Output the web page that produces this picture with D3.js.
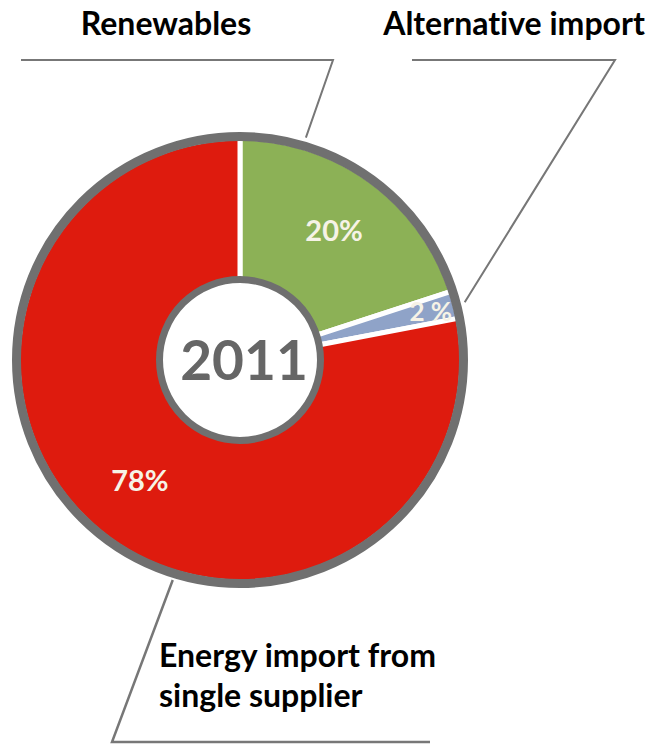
<!DOCTYPE html>
<html>
<head>
<meta charset="utf-8">
<script src="https://cdn.jsdelivr.net/npm/d3@7"></script>
<style>
  body { margin: 0; background: #fff; }
  svg { display: block; }
  text { font-family: Lato, "Open Sans", sans-serif; font-weight: 700; font-variant-ligatures: none; }
</style>
</head>
<body>
<svg id="chart" width="651" height="744"></svg>
<script>
// chart data
const categories = ['Renewables', 'Alternative import', 'Energy import from single supplier']
const categoryLines = [['Renewables'], ['Alternative import'], ['Energy import from', 'single supplier']]
const shares = [20, 2, 78]
const shareLabels = ['20%', '2 %', '78%']
const yearLabel = '2011'
const colors = ['#8cb156', '#8fa3c8', '#de1b0e']

// layout
const cx = 240
const cy = 360
const outerR = 223
const innerR = 84
const labelR = [160, 197, 157]

const svg = d3.select('#chart')
const g = svg.append('g').attr('transform', `translate(${cx}, ${cy})`)

const pie = d3.pie().sort(null).value(d => d)
const arcs = pie(shares)

const arc = d3.arc().innerRadius(innerR - 4).outerRadius(outerR - 1)

// slices, white stroke makes the gaps
g.selectAll('.slice')
  .data(arcs)
  .enter()
  .append('path')
  .attr('class', 'slice')
  .attr('d', arc)
  .style('fill', (d, i) => colors[i])
  .style('stroke', '#fff')
  .style('stroke-width', 5)

// outer grey ring
g.append('circle')
  .attr('r', outerR + 0.5)
  .style('fill', 'none')
  .style('stroke', '#707070')
  .style('stroke-width', 9)

// centre disc
g.append('circle')
  .attr('r', innerR - 3.5)
  .style('fill', '#fff')
  .style('stroke', '#6f6f6f')
  .style('stroke-width', 7)

g.append('text')
  .attr('x', 4)
  .attr('y', 20)
  .attr('text-anchor', 'middle')
  .style('font-size', '55px')
  .style('fill', '#666')
  .text(yearLabel)

// percentage labels at slice centroids
g.selectAll('.pct')
  .data(arcs)
  .enter()
  .append('text')
  .attr('class', 'pct')
  .attr('transform', (d, i) => {
    const c = d3.arc().innerRadius(labelR[i]).outerRadius(labelR[i]).centroid(d)
    return `translate(${c[0]}, ${c[1] + 10})`
  })
  .attr('text-anchor', 'middle')
  .style('font-size', (d, i) => i === 1 ? '26px' : '29px')
  .style('fill', '#f6f3e6')
  .text((d, i) => shareLabels[i])

// leader lines to the category labels
const ringPoint = (angle, r) => [cx + r * Math.sin(angle), cy - r * Math.cos(angle)]
const midAngle = d => (d.startAngle + d.endAngle) / 2
const deg = a => a * Math.PI / 180

const leaders = [
  { pts: [[21, 60], [333, 60], ringPoint(deg(16.5), 232)], w: 2 },
  { pts: [[412, 60], [615, 60], ringPoint(midAngle(arcs[1]), 232)], w: 2 },
  { pts: [ringPoint(deg(197), 230), [112, 742], [430, 742]], w: 2.5 }
]

svg.selectAll('.leader')
  .data(leaders)
  .enter()
  .append('path')
  .attr('class', 'leader')
  .attr('d', d => d3.line()(d.pts))
  .style('fill', 'none')
  .style('stroke', '#777')
  .style('stroke-width', d => d.w)

// category labels
const catPos = [
  { x: 166, y: 35, anchor: 'middle' },
  { x: 514, y: 35, anchor: 'middle' },
  { x: 159, y: 667, anchor: 'start' }
]

categoryLines.forEach((lines, i) => {
  const t = svg.append('text')
    .attr('x', catPos[i].x)
    .attr('y', catPos[i].y)
    .attr('text-anchor', catPos[i].anchor)
    .style('font-size', '32px')
    .style('fill', '#000')
  lines.forEach((line, j) => {
    t.append('tspan')
      .attr('x', catPos[i].x)
      .attr('dy', j === 0 ? 0 : 40)
      .text(line)
  })
})
</script>
</body>
</html>
